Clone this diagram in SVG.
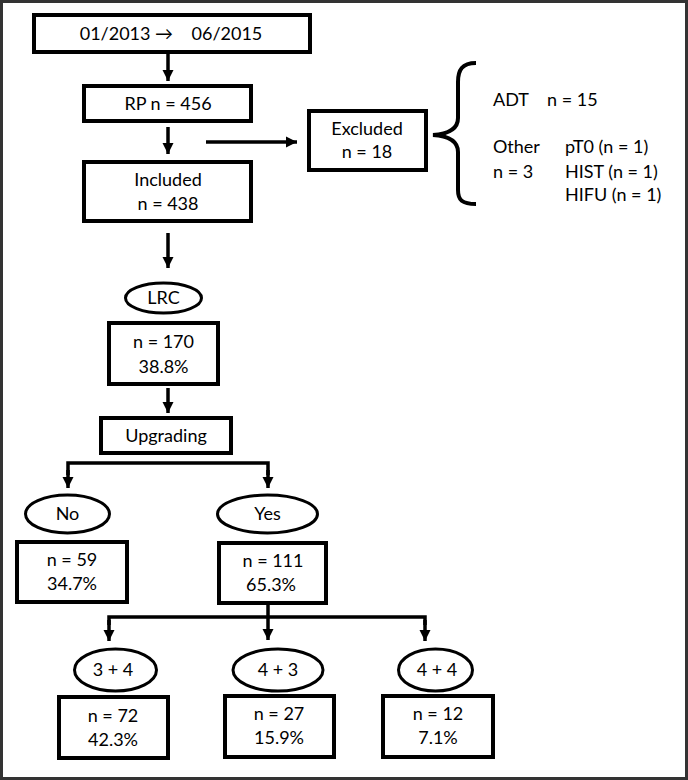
<svg xmlns="http://www.w3.org/2000/svg" width="688" height="780" viewBox="0 0 688 780">
<style>
.bg{fill:#fff}
.frame{fill:none;stroke:#333;stroke-width:3}
.box{fill:#fff;stroke:#000;stroke-width:4}
.ell{fill:#fff;stroke:#000;stroke-width:3}
.t{font-family:Lato,"Liberation Sans",sans-serif;font-size:18px;fill:#000;text-anchor:middle}
.l{font-family:Lato,"Liberation Sans",sans-serif;font-size:18px;fill:#000}
.c{fill:none;stroke:#000;stroke-width:3.5}
.brace{fill:none;stroke:#000;stroke-width:4}
</style>
<defs>
<marker id="ah" markerUnits="userSpaceOnUse" markerWidth="12" markerHeight="12" refX="11" refY="5.5" orient="auto" viewBox="0 0 12 11">
<path d="M0,0 L11,5.5 L0,11 z" fill="#000"/>
</marker>
</defs>
<rect class="bg" x="0" y="0" width="688" height="780"/>
<rect class="frame" x="1.5" y="1.5" width="685" height="777"/>

<g id="connectors">
<line class="c" x1="168" y1="54" x2="168" y2="81" marker-end="url(#ah)"/>
<line class="c" x1="168" y1="127" x2="168" y2="154" marker-end="url(#ah)"/>
<line class="c" x1="206" y1="142" x2="297" y2="142" marker-end="url(#ah)"/>
<line class="c" x1="168" y1="233" x2="168" y2="268" marker-end="url(#ah)"/>
<line class="c" x1="168" y1="388" x2="168" y2="413" marker-end="url(#ah)"/>
<polyline class="c" points="68,475 68,463 268,463 268,475"/>
<line class="c" x1="68" y1="470" x2="68" y2="488" marker-end="url(#ah)"/>
<line class="c" x1="268" y1="470" x2="268" y2="488" marker-end="url(#ah)"/>
<line class="c" x1="268" y1="603" x2="268" y2="640" marker-end="url(#ah)"/>
<polyline class="c" points="109,625 109,617 425,617 425,625"/>
<line class="c" x1="109" y1="620" x2="109" y2="641" marker-end="url(#ah)"/>
<line class="c" x1="425" y1="620" x2="425" y2="641" marker-end="url(#ah)"/>
</g>

<g id="n-dates">
<rect class="box" x="34" y="15" width="276" height="37"/>
<text class="t" x="171" y="40" xml:space="preserve">01/2013 →    06/2015</text>
</g>
<g id="n-rp">
<rect class="box" x="84" y="86" width="167" height="35"/>
<text class="t" x="168" y="110">RP n = 456</text>
</g>
<g id="n-included">
<rect class="box" x="84" y="162" width="167" height="59"/>
<text class="t" x="168" y="186">Included</text>
<text class="t" x="168" y="210">n = 438</text>
</g>
<g id="n-excluded">
<rect class="box" x="309" y="111" width="117" height="59"/>
<text class="t" x="367" y="135">Excluded</text>
<text class="t" x="367" y="158">n = 18</text>
</g>
<g id="n-brace">
<path class="brace" d="M476,63 C462,63 458,70 458,82 L458,118 C458,129 448,134 433,135 C448,136 458,141 458,152 L458,190 C458,200 462,204 476,204"/>
<text class="l" x="493" y="106">ADT</text>
<text class="l" x="547" y="106">n = 15</text>
<text class="l" x="493" y="153">Other</text>
<text class="l" x="565" y="153">pT0 (n = 1)</text>
<text class="l" x="493" y="178">n = 3</text>
<text class="l" x="565" y="178">HIST (n = 1)</text>
<text class="l" x="565" y="201">HIFU (n = 1)</text>
</g>
<g id="n-lrc">
<ellipse class="ell" cx="163.5" cy="298" rx="38" ry="15"/>
<text class="t" x="163.5" y="304">LRC</text>
</g>
<g id="n-170">
<rect class="box" x="109" y="323" width="109" height="61"/>
<text class="t" x="163.5" y="348">n = 170</text>
<text class="t" x="163.5" y="373">38.8%</text>
</g>
<g id="n-upgrading">
<rect class="box" x="101" y="418" width="130" height="35"/>
<text class="t" x="166" y="442">Upgrading</text>
</g>
<g id="n-no">
<ellipse class="ell" cx="67.5" cy="514" rx="42" ry="19"/>
<text class="t" x="67.5" y="520">No</text>
</g>
<g id="n-yes">
<ellipse class="ell" cx="267.5" cy="514" rx="50" ry="19"/>
<text class="t" x="267.5" y="520">Yes</text>
</g>
<g id="n-59">
<rect class="box" x="17" y="542" width="110" height="60"/>
<text class="t" x="72" y="566">n = 59</text>
<text class="t" x="72" y="590">34.7%</text>
</g>
<g id="n-111">
<rect class="box" x="219" y="543" width="107" height="60"/>
<text class="t" x="273" y="567">n = 111</text>
<text class="t" x="271" y="591">65.3%</text>
</g>
<g id="n-34">
<ellipse class="ell" cx="115.5" cy="670" rx="41" ry="21"/>
<text class="t" x="113" y="676">3 + 4</text>
</g>
<g id="n-43">
<ellipse class="ell" cx="278" cy="670" rx="45" ry="21"/>
<text class="t" x="278" y="676">4 + 3</text>
</g>
<g id="n-44">
<ellipse class="ell" cx="435.5" cy="670" rx="37" ry="21"/>
<text class="t" x="437" y="676">4 + 4</text>
</g>
<g id="n-72">
<rect class="box" x="59" y="697" width="109" height="61"/>
<text class="t" x="113" y="722">n = 72</text>
<text class="t" x="113" y="746">42.3%</text>
</g>
<g id="n-27">
<rect class="box" x="225" y="696" width="109" height="61"/>
<text class="t" x="279" y="720">n = 27</text>
<text class="t" x="279" y="744">15.9%</text>
</g>
<g id="n-12">
<rect class="box" x="383" y="696" width="110" height="61"/>
<text class="t" x="438" y="720">n = 12</text>
<text class="t" x="438" y="744">7.1%</text>
</g>
</svg>
